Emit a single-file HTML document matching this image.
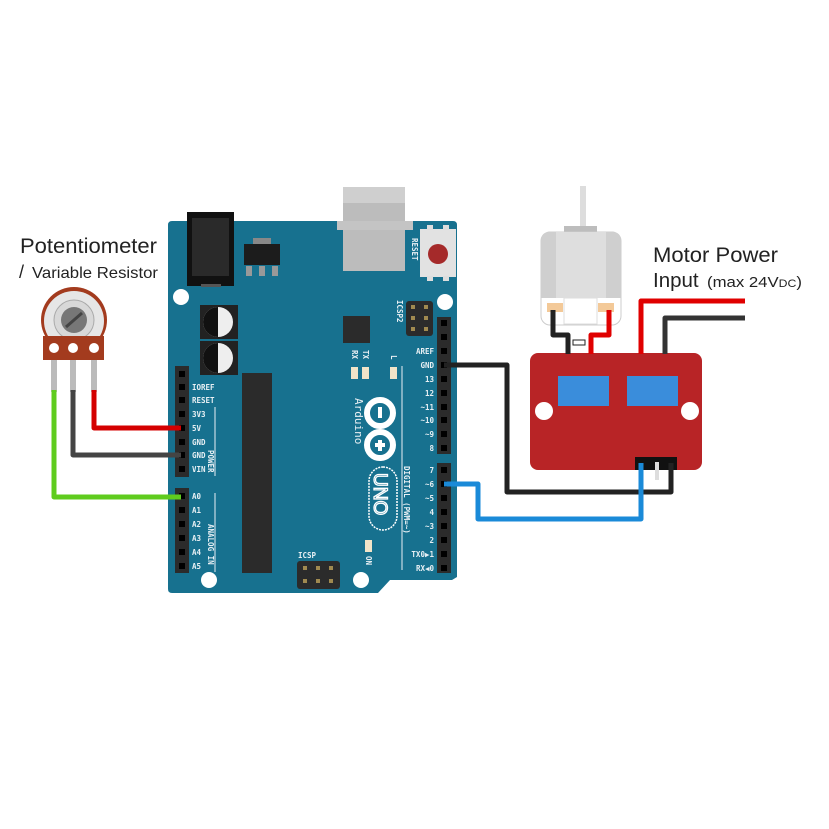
<!DOCTYPE html>
<html><head><meta charset="utf-8"><style>
html,body{margin:0;padding:0;background:#fff;}
svg{display:block}
.t{font-family:"DejaVu Sans Mono","Liberation Mono",monospace;font-size:7.5px;fill:#e8f0f4;font-weight:bold}
.h{font-family:"Liberation Sans",sans-serif;fill:#222}
</style></head><body>
<svg width="829" height="829" viewBox="0 0 829 829" xmlns="http://www.w3.org/2000/svg">
<rect width="829" height="829" fill="#fff"/>
<!-- board -->
<path d="M172,221 H453 Q457,221 457,225 V577 L452,580 H390 L378,593 H172 Q168,593 168,589 V225 Q168,221 172,221 Z" fill="#17718f"/>
<!-- USB -->
<rect x="343" y="187" width="62" height="84" fill="#bcbcbc"/>
<rect x="343" y="187" width="62" height="16" fill="#cfcfcf"/>
<rect x="337" y="221" width="76" height="9" fill="#c4c4c4"/>
<!-- power jack -->
<rect x="187" y="212" width="47" height="74" fill="#111"/>
<rect x="192" y="218" width="37" height="58" fill="#2a2a2a"/>
<rect x="201" y="284" width="20" height="3" fill="#555"/>
<!-- regulator -->
<rect x="253" y="238" width="18" height="6" fill="#888"/>
<rect x="244" y="244" width="36" height="21" fill="#1c1c1c"/>
<rect x="246" y="266" width="6" height="10" fill="#999"/><rect x="259" y="266" width="6" height="10" fill="#999"/><rect x="272" y="266" width="6" height="10" fill="#999"/>
<!-- reset -->
<rect x="420" y="229" width="36" height="48" fill="#e2e2e2"/>
<rect x="427" y="225" width="6" height="5" fill="#ddd"/><rect x="443" y="225" width="6" height="5" fill="#ddd"/>
<rect x="427" y="276" width="6" height="5" fill="#ddd"/><rect x="443" y="276" width="6" height="5" fill="#ddd"/>
<circle cx="438" cy="254" r="10" fill="#a52a2a"/>
<text class="t" transform="translate(412,238) rotate(90)">RESET</text>
<!-- holes -->
<circle cx="181" cy="297" r="8" fill="#fff"/>
<circle cx="445" cy="302" r="8" fill="#fff"/>
<circle cx="209" cy="580" r="8" fill="#fff"/>
<circle cx="361" cy="580" r="8" fill="#fff"/>
<!-- capacitors -->
<rect x="200" y="305" width="38" height="34" fill="#222"/>
<rect x="200" y="341" width="38" height="34" fill="#222"/>
<circle cx="218" cy="322" r="15" fill="#eee"/><path d="M218,307 A15,15 0 0 0 218,337 Z" fill="#111"/>
<circle cx="218" cy="358" r="15" fill="#eee"/><path d="M218,343 A15,15 0 0 0 218,373 Z" fill="#111"/>
<!-- chip -->
<rect x="242" y="373" width="30" height="200" fill="#2b2b2b"/>
<rect x="343" y="316" width="27" height="27" fill="#2b2b2b"/>
<!-- ICSP2 -->
<rect x="406" y="301" width="27" height="35" fill="#2b2b2b" rx="3"/>
<g fill="#a08a50"><rect x="411" y="305" width="4" height="4"/><rect x="424" y="305" width="4" height="4"/><rect x="411" y="316" width="4" height="4"/><rect x="424" y="316" width="4" height="4"/><rect x="411" y="327" width="4" height="4"/><rect x="424" y="327" width="4" height="4"/></g>
<text class="t" transform="translate(397,300) rotate(90)">ICSP2</text>
<!-- ICSP -->
<rect x="297" y="561" width="43" height="28" fill="#2b2b2b" rx="3"/>
<g fill="#a08a50"><rect x="303" y="566" width="4" height="4"/><rect x="316" y="566" width="4" height="4"/><rect x="329" y="566" width="4" height="4"/><rect x="303" y="579" width="4" height="4"/><rect x="316" y="579" width="4" height="4"/><rect x="329" y="579" width="4" height="4"/></g>
<text class="t" x="298" y="558">ICSP</text>
<!-- LEDs -->
<rect x="351" y="367" width="7" height="12" fill="#f1e4c8"/><rect x="362" y="367" width="7" height="12" fill="#f1e4c8"/><rect x="390" y="367" width="7" height="12" fill="#f1e4c8"/>
<rect x="365" y="540" width="7" height="12" fill="#f1e4c8"/>
<text class="t" transform="translate(352,350) rotate(90)">RX</text>
<text class="t" transform="translate(363,350) rotate(90)">TX</text>
<text class="t" transform="translate(391,355) rotate(90)">L</text>
<text class="t" transform="translate(366,556) rotate(90)">ON</text>
<line x1="402" y1="366" x2="402" y2="570" stroke="#e8f0f4" stroke-width="1"/>
<!-- logo -->
<circle cx="380" cy="413" r="13" fill="none" stroke="#fff" stroke-width="6"/>
<circle cx="380" cy="445" r="13" fill="none" stroke="#fff" stroke-width="6"/>
<rect x="378" y="407" width="4" height="11" fill="#fff"/>
<rect x="378" y="440" width="4" height="11" fill="#fff"/><rect x="375" y="443" width="10" height="4" fill="#fff"/>
<text class="t" style="font-size:11px;font-weight:normal" transform="translate(355,398) rotate(90)">Arduino</text>
<rect x="369" y="467" width="28" height="63" rx="14" fill="none" stroke="#fff" stroke-width="1.5" stroke-dasharray="2 1"/>
<text x="0" y="0" transform="translate(374,473) rotate(90)" style="font-family:'Liberation Sans',sans-serif;font-size:19px;fill:none;stroke:#fff;stroke-width:1.3">UNO</text>
<text class="t" transform="translate(404,466) rotate(90)">DIGITAL (PWM=~)</text>
<!-- left headers -->
<rect x="175" y="366" width="14" height="111" fill="#2b2b2b"/>
<rect x="175" y="488" width="14" height="85" fill="#2b2b2b"/>
<g fill="#000">
<rect x="179" y="384" width="6" height="6"/><rect x="179" y="397" width="6" height="6"/><rect x="179" y="411" width="6" height="6"/><rect x="179" y="425" width="6" height="6"/><rect x="179" y="439" width="6" height="6"/><rect x="179" y="452" width="6" height="6"/><rect x="179" y="466" width="6" height="6"/><rect x="179" y="371" width="6" height="6"/>
<rect x="179" y="493" width="6" height="6"/><rect x="179" y="507" width="6" height="6"/><rect x="179" y="521" width="6" height="6"/><rect x="179" y="535" width="6" height="6"/><rect x="179" y="549" width="6" height="6"/><rect x="179" y="563" width="6" height="6"/>
</g>
<g class="t"><text x="192" y="390">IOREF</text><text x="192" y="403">RESET</text><text x="192" y="417">3V3</text><text x="192" y="431">5V</text><text x="192" y="445">GND</text><text x="192" y="458">GND</text><text x="192" y="472">VIN</text>
<text x="192" y="499">A0</text><text x="192" y="513">A1</text><text x="192" y="527">A2</text><text x="192" y="541">A3</text><text x="192" y="555">A4</text><text x="192" y="569">A5</text></g>
<line x1="215" y1="407" x2="215" y2="476" stroke="#e8f0f4"/><line x1="215" y1="493" x2="215" y2="572" stroke="#e8f0f4"/>
<text class="t" transform="translate(208,450) rotate(90)">POWER</text>
<text class="t" transform="translate(208,524) rotate(90)">ANALOG IN</text>
<!-- right headers -->
<rect x="437" y="317" width="14" height="137" fill="#2b2b2b"/>
<rect x="437" y="463" width="14" height="110" fill="#2b2b2b"/>
<g fill="#000">
<rect x="441" y="320" width="6" height="6"/><rect x="441" y="334" width="6" height="6"/><rect x="441" y="348" width="6" height="6"/><rect x="441" y="362" width="6" height="6"/><rect x="441" y="376" width="6" height="6"/><rect x="441" y="390" width="6" height="6"/><rect x="441" y="404" width="6" height="6"/><rect x="441" y="417" width="6" height="6"/><rect x="441" y="431" width="6" height="6"/><rect x="441" y="445" width="6" height="6"/>
<rect x="441" y="467" width="6" height="6"/><rect x="441" y="481" width="6" height="6"/><rect x="441" y="495" width="6" height="6"/><rect x="441" y="509" width="6" height="6"/><rect x="441" y="523" width="6" height="6"/><rect x="441" y="537" width="6" height="6"/><rect x="441" y="551" width="6" height="6"/><rect x="441" y="565" width="6" height="6"/>
</g>
<g class="t" text-anchor="end"><text x="434" y="354">AREF</text><text x="434" y="368">GND</text><text x="434" y="382">13</text><text x="434" y="396">12</text><text x="434" y="410">~11</text><text x="434" y="423">~10</text><text x="434" y="437">~9</text><text x="434" y="451">8</text>
<text x="434" y="473">7</text><text x="434" y="487">~6</text><text x="434" y="501">~5</text><text x="434" y="515">4</text><text x="434" y="529">~3</text><text x="434" y="543">2</text><text x="434" y="557">TX0▶1</text><text x="434" y="571">RX◀0</text></g>
<!-- potentiometer -->
<circle cx="74" cy="320" r="33" fill="#a33b1e"/>
<circle cx="74" cy="321" r="30" fill="#e6e6e6"/>
<circle cx="74" cy="320" r="20" fill="#d8d8d8" stroke="#aaa" stroke-width="1"/>
<circle cx="74" cy="320" r="13" fill="#777"/>
<line x1="66" y1="327" x2="82" y2="313" stroke="#444" stroke-width="3"/>
<rect x="43" y="336" width="61" height="24" fill="#a33b1e"/>
<circle cx="54" cy="348" r="5" fill="#fff"/><circle cx="73" cy="348" r="5" fill="#fff"/><circle cx="94" cy="348" r="5" fill="#fff"/>
<rect x="51" y="360" width="6" height="32" fill="#bbb"/><rect x="70" y="360" width="6" height="32" fill="#bbb"/><rect x="91" y="360" width="6" height="32" fill="#bbb"/>
<g fill="none" stroke-width="5" stroke-linejoin="round">
<path d="M54,390 V497 H181" stroke="#5fcc1e"/>
<path d="M73,390 V455 H181" stroke="#444"/>
<path d="M94,390 V428 H181" stroke="#d40000"/>
</g>
<!-- motor -->
<rect x="580" y="186" width="6" height="42" fill="#ddd"/>
<rect x="564" y="226" width="33" height="8" fill="#bdbdbd"/>
<rect x="541" y="232" width="80" height="93" rx="9" fill="#fff" stroke="#ccc"/>
<path d="M550,232 H612 Q621,232 621,241 V298 H541 V241 Q541,232 550,232 Z" fill="#cfcfcf"/>
<rect x="556" y="232" width="50" height="66" fill="#dedede"/>
<rect x="564" y="298" width="33" height="26" fill="#fff" stroke="#ddd"/>
<rect x="547" y="303" width="16" height="9" fill="#f3c998"/><rect x="598" y="303" width="16" height="9" fill="#f3c998"/>
<!-- driver -->
<rect x="530" y="353" width="172" height="117" rx="8" fill="#b82426"/>
<rect x="558" y="376" width="51" height="30" fill="#3a8ddb"/>
<rect x="627" y="376" width="51" height="30" fill="#3a8ddb"/>
<circle cx="544" cy="411" r="9" fill="#fff"/><circle cx="690" cy="411" r="9" fill="#fff"/>
<rect x="635" y="457" width="42" height="13" fill="#111"/>
<rect x="655" y="462" width="4" height="18" fill="#ddd"/>
<!-- wires -->
<g fill="none" stroke-width="5" stroke-linejoin="round">
<path d="M553,310 V335 H568 V354" stroke="#222"/>
<path d="M609,310 V335 H591 V354" stroke="#e00000"/>
<path d="M641,354 V301 H745" stroke="#e00000"/>
<path d="M665,354 V318 H745" stroke="#333"/>
<path d="M444,365 H507 V492 H671 V463" stroke="#222"/>
<path d="M444,484 H478 V519 H641 V463" stroke="#1a8ad8"/>
</g>
<rect x="573" y="340" width="12" height="5" fill="#fff" stroke="#222"/>
<!-- labels -->
<text class="h" x="20" y="253" font-size="21" textLength="137" lengthAdjust="spacingAndGlyphs">Potentiometer</text>
<text class="h" x="19" y="278" font-size="18">/</text>
<text class="h" x="32" y="278" font-size="16" textLength="126" lengthAdjust="spacingAndGlyphs">Variable Resistor</text>
<text class="h" x="653" y="262" font-size="21" textLength="125" lengthAdjust="spacingAndGlyphs">Motor Power</text>
<text class="h" x="653" y="287" font-size="20.5">Input</text>
<text class="h" x="707" y="287" font-size="15" textLength="95" lengthAdjust="spacingAndGlyphs">(max 24V<tspan font-size="11">DC</tspan>)</text>
</svg>
</body></html>
